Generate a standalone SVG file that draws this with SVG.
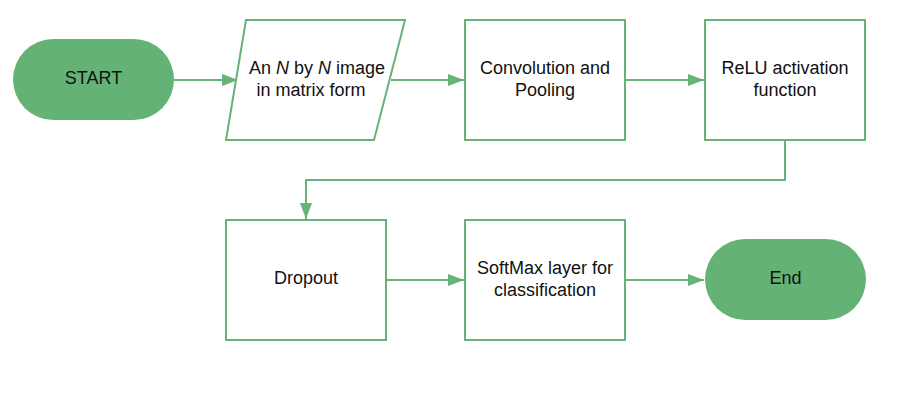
<svg xmlns="http://www.w3.org/2000/svg" width="914" height="403" viewBox="0 0 914 403">
<style>
.term{fill:#64b276;stroke:none}
.box{fill:#fff;stroke:#66b277;stroke-width:2}
.edge{fill:none;stroke:#66b277;stroke-width:2}
text{font-family:"Liberation Sans",Arial,sans-serif;font-size:18px;fill:#111;text-anchor:middle}
</style>
<defs>
<marker id="ah" viewBox="0 0 16 12" refX="16" refY="6" markerWidth="16" markerHeight="12" markerUnits="userSpaceOnUse" orient="auto">
<path d="M0,0 L16,6 L0,12 Z" fill="#66b277"/>
</marker>
</defs>
<rect width="914" height="403" fill="#fff"/>
<g id="connectors">
<path class="edge" d="M174,80 H238" marker-end="url(#ah)"/>
<path class="edge" d="M391,80 H464" marker-end="url(#ah)"/>
<path class="edge" d="M625,80 H704" marker-end="url(#ah)"/>
<path class="edge" d="M785,140 V180 H306 V219" marker-end="url(#ah)"/>
<path class="edge" d="M386,280 H464" marker-end="url(#ah)"/>
<path class="edge" d="M625,280 H704" marker-end="url(#ah)"/>
</g>
<g id="start">
<rect class="term" x="13" y="39" width="161" height="81" rx="40.5"/>
<text x="93.5" y="84">START</text>
</g>
<g id="input">
<polygon class="box" points="246,20 405,20 374,140 226,140"/>
<text x="317" y="74">An <tspan font-style="italic">N</tspan> by <tspan font-style="italic">N</tspan> image</text>
<text x="311" y="96">in matrix form</text>
</g>
<g id="conv">
<rect class="box" x="465" y="20" width="160" height="120"/>
<text x="545" y="74">Convolution and</text>
<text x="545" y="96">Pooling</text>
</g>
<g id="relu">
<rect class="box" x="705" y="20" width="160" height="120"/>
<text x="785" y="74">ReLU activation</text>
<text x="785" y="96">function</text>
</g>
<g id="dropout">
<rect class="box" x="226" y="220" width="160" height="120"/>
<text x="306" y="284">Dropout</text>
</g>
<g id="softmax">
<rect class="box" x="465" y="220" width="160" height="120"/>
<text x="545" y="274">SoftMax layer for</text>
<text x="545" y="296">classification</text>
</g>
<g id="end">
<rect class="term" x="705" y="239" width="161" height="81" rx="40.5"/>
<text x="785.5" y="284">End</text>
</g>
</svg>
